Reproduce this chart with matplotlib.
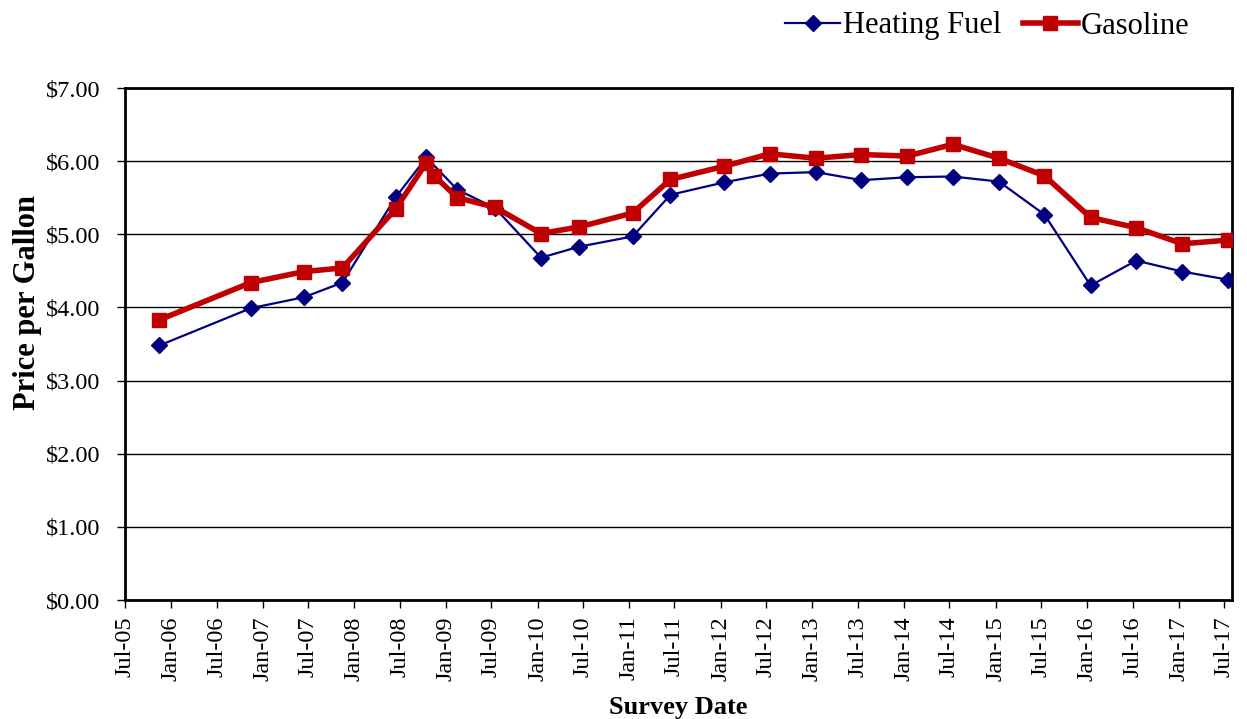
import matplotlib
matplotlib.use('Agg')
import matplotlib.pyplot as plt
import matplotlib.dates as mdates
import pandas as pd

plt.rcParams['font.family'] = ['Liberation Serif', 'DejaVu Serif']

heat_dates = ['2005-11-15', '2006-11-15', '2007-06-15', '2007-11-15', '2008-06-15',
              '2008-10-15', '2009-02-15', '2009-07-15', '2010-01-15', '2010-06-15',
              '2011-01-15', '2011-06-15', '2012-01-15', '2012-07-15', '2013-01-15',
              '2013-07-15', '2014-01-15', '2014-07-15', '2015-01-15', '2015-07-15',
              '2016-01-15', '2016-07-15', '2017-01-15', '2017-07-15']
heat_price = [3.48, 3.99, 4.14, 4.34, 5.51, 6.05, 5.61, 5.36, 4.68, 4.83,
              4.97, 5.54, 5.71, 5.83, 5.85, 5.74, 5.78, 5.79, 5.72, 5.27,
              4.30, 4.64, 4.49, 4.38]

gas_dates = ['2005-11-15', '2006-11-15', '2007-06-15', '2007-11-15', '2008-06-15',
             '2008-10-15', '2008-11-15', '2009-02-15', '2009-07-15', '2010-01-15',
             '2010-06-15', '2011-01-15', '2011-06-15', '2012-01-15', '2012-07-15',
             '2013-01-15', '2013-07-15', '2014-01-15', '2014-07-15', '2015-01-15',
             '2015-07-15', '2016-01-15', '2016-07-15', '2017-01-15', '2017-07-15']
gas_price = [3.83, 4.34, 4.49, 4.54, 5.35, 5.98, 5.80, 5.50, 5.37, 5.01,
             5.10, 5.29, 5.75, 5.93, 6.10, 6.04, 6.09, 6.07, 6.23, 6.04,
             5.80, 5.23, 5.09, 4.87, 4.92]

tick_dates = pd.date_range('2005-07-01', '2017-07-01', freq='6MS')

fig = plt.figure(figsize=(12.47, 7.19), dpi=100)
ax = fig.add_axes([125 / 1247, 1 - 600 / 719, (1232 - 125) / 1247, (600 - 88) / 719])

ax.plot(pd.to_datetime(heat_dates), heat_price, color='#000080', lw=1.6,
        marker='D', markersize=8, label='Heating Fuel', zorder=3)
ax.plot(pd.to_datetime(gas_dates), gas_price, color='#C00000', lw=4,
        marker='s', markersize=10, label='Gasoline', zorder=4)

ax.set_xlim(pd.Timestamp('2005-07-01'), pd.Timestamp('2017-08-01'))
ax.set_ylim(0, 7)
ax.set_yticks(range(0, 8))
ax.yaxis.set_major_formatter(lambda v, p: '${:.2f}'.format(v))
ax.set_xticks(tick_dates)
ax.xaxis.set_major_formatter(mdates.DateFormatter('%b-%y'))
ax.tick_params(axis='x', rotation=90, labelsize=17.5, direction='out', length=6, width=1, pad=6)
ax.tick_params(axis='y', labelsize=17.5, direction='out', length=6, width=1, pad=12)

ax.grid(axis='y', color='black', lw=1)
ax.set_axisbelow(True)
for s in ax.spines.values():
    s.set_linewidth(2)

ax.set_ylabel('Price per Gallon', fontsize=22, fontweight='bold', va='center')
ax.yaxis.set_label_coords(-0.088, 0.581)
ax.set_xlabel('Survey Date', fontsize=19, fontweight='bold', va='center')
ax.xaxis.set_label_coords(0.4995, -0.209)

fig.legend(loc='center left', bbox_to_anchor=(785 / 1247, 1 - 26 / 719), ncol=2, frameon=False,
           fontsize=22, handlelength=1.8, handletextpad=0.1, columnspacing=0.7,
           borderpad=0, borderaxespad=0)

fig.savefig('out.png', dpi=100)
